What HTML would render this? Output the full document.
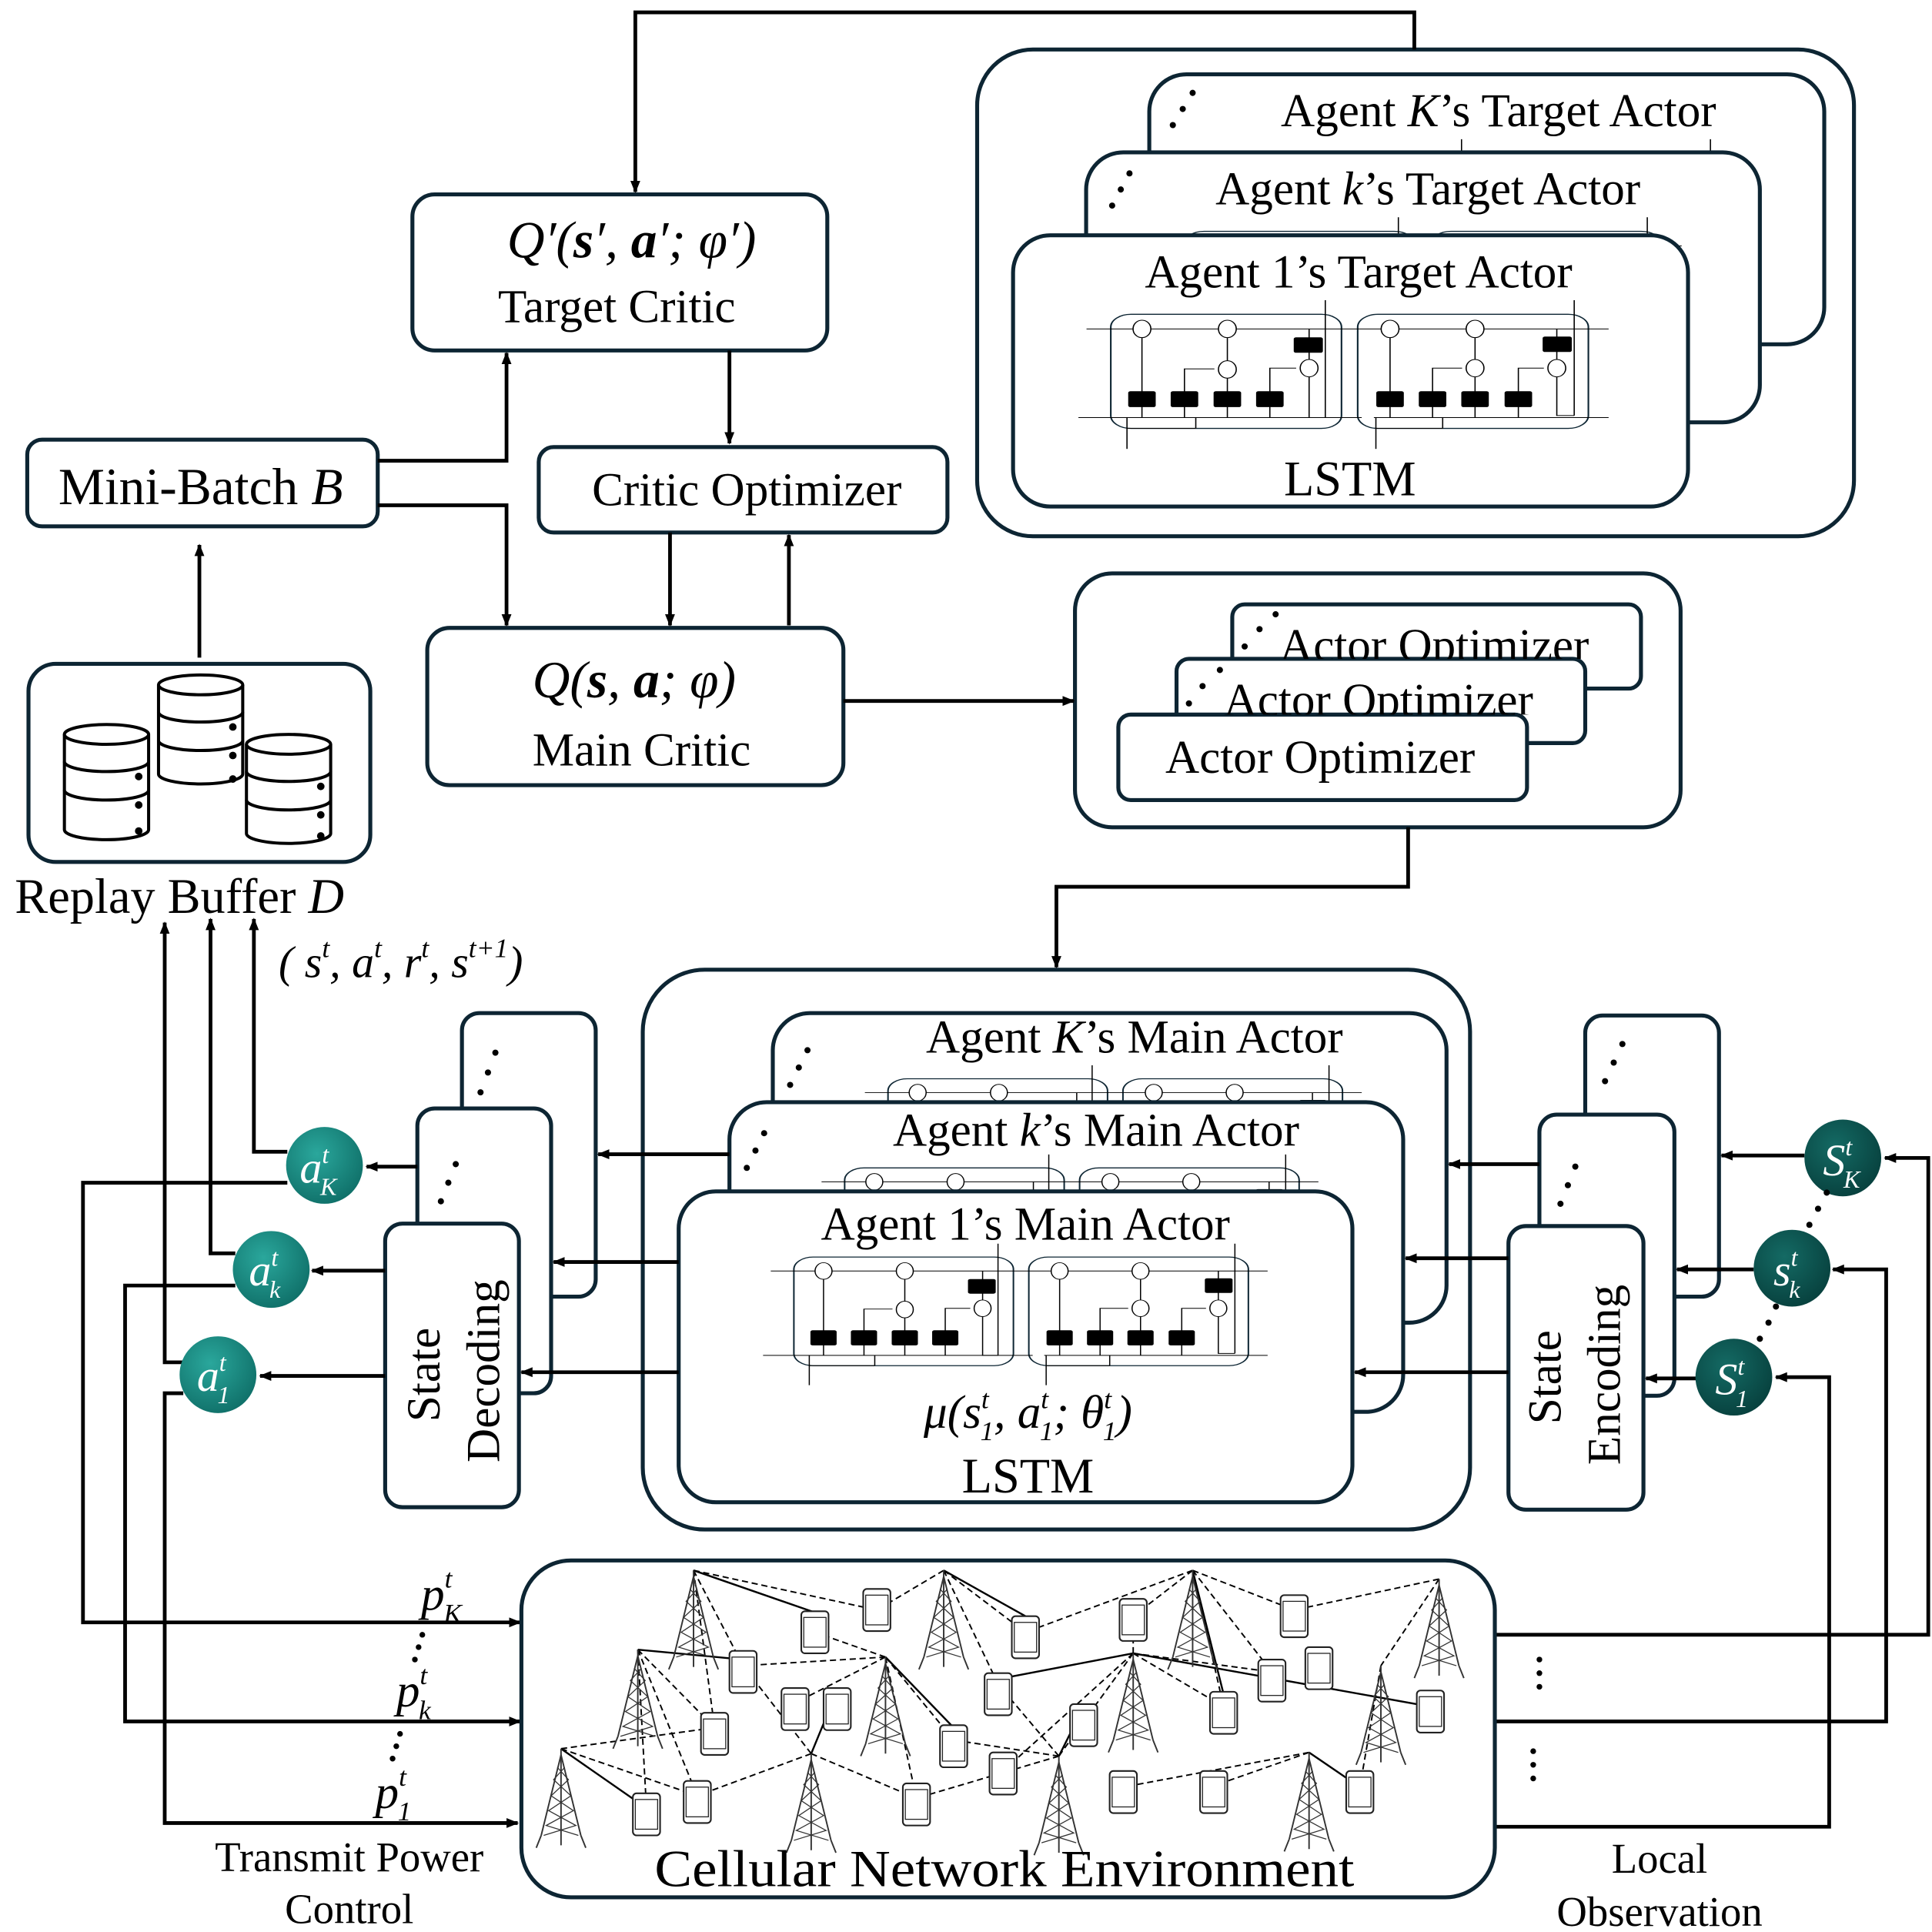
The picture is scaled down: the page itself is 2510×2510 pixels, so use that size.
<!DOCTYPE html>
<html><head><meta charset="utf-8"><style>
html,body{margin:0;padding:0;background:#fff}
svg{display:block}
text{font-family:"Liberation Serif",serif;fill:#000}
</style></head><body>
<svg width="2510" height="2510" viewBox="0 0 1560 1560" xmlns="http://www.w3.org/2000/svg">
<defs>
<marker id="ar" markerWidth="10" markerHeight="10" refX="9" refY="5" orient="auto" markerUnits="userSpaceOnUse"><path d="M0,1 L10,5 L0,9 Z" fill="#000"/></marker>
<g id="lstm" stroke="#000" fill="none" stroke-width="3">
 <rect x="120" y="55" width="570" height="445" rx="50" stroke="#0d2533" stroke-width="4"/>
 <rect x="730" y="55" width="570" height="445" rx="50" stroke="#0d2533" stroke-width="4"/>
 <line x1="60" y1="112" x2="1350" y2="112"/>
 <line x1="40" y1="458" x2="740" y2="458"/>
 <line x1="770" y1="458" x2="1350" y2="458"/>
 <line x1="160" y1="458" x2="160" y2="580"/><line x1="330" y1="458" x2="330" y2="500"/><line x1="160" y1="500" x2="330" y2="500"/>
 <line x1="775" y1="458" x2="775" y2="580"/><line x1="940" y1="458" x2="940" y2="500"/><line x1="775" y1="500" x2="940" y2="500"/>
 <line x1="197" y1="458" x2="197" y2="144"/><line x1="408" y1="458" x2="408" y2="302"/><line x1="408" y1="238" x2="408" y2="144"/>
 <polyline points="302,458 302,268 376,268"/><polyline points="513,458 513,265 578,265"/>
 <line x1="610" y1="112" x2="610" y2="233"/><polyline points="610,297 610,458 650,458"/><line x1="650" y1="458" x2="650" y2="0"/>
 <line x1="810" y1="458" x2="810" y2="144"/><line x1="1020" y1="458" x2="1020" y2="297"/><line x1="1020" y1="233" x2="1020" y2="144"/>
 <polyline points="915,458 915,265 988,265"/><polyline points="1127,458 1127,265 1190,265"/>
 <line x1="1222" y1="112" x2="1222" y2="233"/><polyline points="1222,297 1222,450 1265,450"/><line x1="1265" y1="450" x2="1265" y2="0"/>
 <g fill="#fff"><ellipse cx="197" cy="112" rx="22" ry="34"/><ellipse cx="408" cy="112" rx="22" ry="34"/><ellipse cx="408" cy="270" rx="22" ry="34"/><ellipse cx="610" cy="265" rx="22" ry="34"/>
 <ellipse cx="810" cy="112" rx="22" ry="34"/><ellipse cx="1020" cy="112" rx="22" ry="34"/><ellipse cx="1020" cy="265" rx="22" ry="34"/><ellipse cx="1222" cy="265" rx="22" ry="34"/></g>
 <g fill="#000" stroke="none"><rect x="163" y="355" width="68" height="62" rx="6"/><rect x="268" y="355" width="68" height="62" rx="6"/><rect x="374" y="355" width="68" height="62" rx="6"/><rect x="479" y="355" width="68" height="62" rx="6"/>
 <rect x="776" y="355" width="68" height="62" rx="6"/><rect x="881" y="355" width="68" height="62" rx="6"/><rect x="986" y="355" width="68" height="62" rx="6"/><rect x="1093" y="355" width="68" height="62" rx="6"/>
 <rect x="572" y="145" width="72" height="60" rx="6"/><rect x="1187" y="142" width="72" height="60" rx="6"/></g>
</g>
<g id="tower" stroke="#333" fill="none" stroke-width="1.2">
 <line x1="0" y1="0" x2="0" y2="78"/><line x1="0" y1="5" x2="-16" y2="70"/><line x1="0" y1="5" x2="16" y2="70"/>
 <line x1="-16" y1="70" x2="-20" y2="80"/><line x1="16" y1="70" x2="20" y2="80"/>
 <path d="M-3,15 L6,25 L-8,38 L10,50 L-12,62 L14,70 M3,15 L-6,25 L8,38 L-10,50 L12,62 L-14,70" stroke-width="0.8"/>
</g>
<g id="phone" stroke="#222" fill="#fff" stroke-width="1.3">
 <rect x="-11" y="-17" width="22" height="34" rx="3"/><rect x="-9" y="-12" width="18" height="24" fill="none" stroke-width="0.8"/>
</g>
</defs>

<g fill="none" stroke="#0d2533" stroke-width="3.2">
<rect x="789" y="40" width="708" height="393" rx="45" fill="#fff"/>
<rect x="928" y="60" width="545" height="218" rx="30" fill="#fff"/>
</g>
<use href="#lstm" transform="translate(967.7,112.4) scale(0.3268,0.207)"/>
<rect x="877" y="123" width="544" height="218" rx="30" fill="#fff" stroke="#0d2533" stroke-width="3.2"/>
<use href="#lstm" transform="translate(916.7,175.4) scale(0.3268,0.207)"/>
<rect x="818" y="190" width="545" height="219" rx="30" fill="#fff" stroke="#0d2533" stroke-width="3.2"/>
<use href="#lstm" transform="translate(857.7,242.4) scale(0.3268,0.207)"/>
<text x="1210" y="102" font-size="38" text-anchor="middle">Agent <tspan font-style="italic">K</tspan>’s Target Actor</text>
<text x="1153" y="165" font-size="38" text-anchor="middle">Agent <tspan font-style="italic">k</tspan>’s Target Actor</text>
<text x="1097" y="232" font-size="38" text-anchor="middle">Agent 1’s Target Actor</text>
<text x="1090" y="400" font-size="40" text-anchor="middle">LSTM</text>
<g fill="#000"><circle cx="963" cy="75" r="2.5"/><circle cx="955" cy="88" r="2.5"/><circle cx="947" cy="101" r="2.5"/>
<circle cx="912" cy="140" r="2.5"/><circle cx="905" cy="153" r="2.5"/><circle cx="898" cy="166" r="2.5"/></g>

<g fill="#fff" stroke="#0d2533" stroke-width="3.2">
<rect x="333" y="157" width="335" height="126" rx="18"/>
<rect x="22" y="355" width="283" height="70" rx="12"/>
<rect x="435" y="361" width="330" height="69" rx="12"/>
<rect x="345" y="507" width="336" height="127" rx="18"/>
<rect x="23" y="536" width="276" height="160" rx="22"/>
</g>
<text x="510" y="208" font-size="42" text-anchor="middle" font-style="italic">Q′(<tspan font-weight="bold">s</tspan>′, <tspan font-weight="bold">a</tspan>′; φ′)</text>
<text x="498" y="260" font-size="38" text-anchor="middle">Target Critic</text>
<text x="162" y="407" font-size="42" text-anchor="middle">Mini-Batch <tspan font-style="italic">B</tspan></text>
<text x="603" y="408" font-size="38" text-anchor="middle">Critic Optimizer</text>
<text x="512" y="563" font-size="42" text-anchor="middle" font-style="italic">Q(<tspan font-weight="bold">s</tspan>, <tspan font-weight="bold">a</tspan>; φ)</text>
<text x="518" y="618" font-size="38" text-anchor="middle">Main Critic</text>
<text x="12" y="737" font-size="40">Replay Buffer <tspan font-style="italic">D</tspan></text>
<text x="225" y="789" font-size="36" font-style="italic">( s<tspan font-size="22" dy="-16">t</tspan><tspan dy="16">, a</tspan><tspan font-size="22" dy="-16">t</tspan><tspan dy="16">,  r</tspan><tspan font-size="22" dy="-16">t</tspan><tspan dy="16">,  s</tspan><tspan font-size="22" dy="-16">t+1</tspan><tspan dy="16">)</tspan></text>

<g stroke="#000" stroke-width="2.5" fill="#fff">
<g transform="translate(52,585)"><path d="M0,8 V85 A34,8 0 0 0 68,85 V8"/><ellipse cx="34" cy="8" rx="34" ry="8"/><path d="M0,30 A34,8 0 0 0 68,30 M0,53 A34,8 0 0 0 68,53" fill="none"/><circle cx="60" cy="42" r="1.8" fill="#000"/><circle cx="60" cy="65" r="1.8" fill="#000"/><circle cx="60" cy="86" r="1.8" fill="#000"/></g>
<g transform="translate(128,545)"><path d="M0,8 V80 A34,8 0 0 0 68,80 V8"/><ellipse cx="34" cy="8" rx="34" ry="8"/><path d="M0,30 A34,8 0 0 0 68,30 M0,53 A34,8 0 0 0 68,53" fill="none"/><circle cx="60" cy="42" r="1.8" fill="#000"/><circle cx="60" cy="65" r="1.8" fill="#000"/><circle cx="60" cy="84" r="1.8" fill="#000"/></g>
<g transform="translate(199,593)"><path d="M0,8 V80 A34,8 0 0 0 68,80 V8"/><ellipse cx="34" cy="8" rx="34" ry="8"/><path d="M0,30 A34,8 0 0 0 68,30 M0,53 A34,8 0 0 0 68,53" fill="none"/><circle cx="60" cy="42" r="1.8" fill="#000"/><circle cx="60" cy="65" r="1.8" fill="#000"/><circle cx="60" cy="82" r="1.8" fill="#000"/></g>
</g>

<g fill="#fff" stroke="#0d2533" stroke-width="3.2">
<rect x="868" y="463" width="489" height="205" rx="30"/>
<rect x="995" y="488" width="330" height="68" rx="10"/>
<rect x="950" y="532" width="330" height="68" rx="10"/>
<rect x="903" y="577" width="330" height="69" rx="10"/>
</g>
<clipPath id="c1"><rect x="995" y="488" width="330" height="44"/></clipPath>
<clipPath id="c2"><rect x="950" y="532" width="330" height="45"/></clipPath>
<text x="1158" y="534" font-size="38" text-anchor="middle" clip-path="url(#c1)">Actor Optimizer</text>
<text x="1113" y="578" font-size="38" text-anchor="middle" clip-path="url(#c2)">Actor Optimizer</text>
<text x="1066" y="624" font-size="38" text-anchor="middle">Actor Optimizer</text>
<g fill="#000"><circle cx="1030" cy="496" r="2.5"/><circle cx="1017" cy="508" r="2.5"/><circle cx="1005" cy="522" r="2.5"/>
<circle cx="985" cy="541" r="2.5"/><circle cx="971" cy="554" r="2.5"/><circle cx="960" cy="568" r="2.5"/></g>

<rect x="519" y="783" width="668" height="452" rx="50" fill="#fff" stroke="#0d2533" stroke-width="3.2"/>
<rect x="624" y="818" width="544" height="250" rx="30" fill="#fff" stroke="#0d2533" stroke-width="3.2"/>
<use href="#lstm" transform="translate(679.7,860.2) scale(0.311,0.197)"/>
<rect x="589" y="890" width="544" height="250" rx="30" fill="#fff" stroke="#0d2533" stroke-width="3.2"/>
<use href="#lstm" transform="translate(644.7,932.2) scale(0.311,0.197)"/>
<rect x="548" y="962" width="544" height="251" rx="30" fill="#fff" stroke="#0d2533" stroke-width="3.2"/>
<use href="#lstm" transform="translate(603.7,1004.2) scale(0.311,0.197)"/>
<text x="916" y="850" font-size="38" text-anchor="middle">Agent <tspan font-style="italic">K</tspan>’s Main Actor</text>
<text x="885" y="925" font-size="38" text-anchor="middle">Agent <tspan font-style="italic">k</tspan>’s Main Actor</text>
<text x="828" y="1001" font-size="38" text-anchor="middle">Agent 1’s Main Actor</text>
<text x="830" y="1153" font-size="38" text-anchor="middle" font-style="italic">μ(s<tspan font-size="22" dy="-16">t</tspan><tspan font-size="22" dx="-7" dy="26">1</tspan><tspan dy="-10">, a</tspan><tspan font-size="22" dy="-16">t</tspan><tspan font-size="22" dx="-7" dy="26">1</tspan><tspan dy="-10">; θ</tspan><tspan font-size="22" dy="-16">t</tspan><tspan font-size="22" dx="-7" dy="26">1</tspan><tspan dy="-10">)</tspan></text>
<text x="830" y="1205" font-size="40" text-anchor="middle">LSTM</text>
<g fill="#000"><circle cx="652" cy="848" r="2.5"/><circle cx="645" cy="862" r="2.5"/><circle cx="638" cy="876" r="2.5"/>
<circle cx="617" cy="915" r="2.5"/><circle cx="610" cy="929" r="2.5"/><circle cx="603" cy="943" r="2.5"/></g>

<g fill="#fff" stroke="#0d2533" stroke-width="3.2">
<rect x="373" y="818" width="108" height="229" rx="14"/>
<rect x="337" y="895" width="108" height="230" rx="14"/>
<rect x="311" y="988" width="108" height="229" rx="14"/>
<rect x="1280" y="820" width="108" height="227" rx="14"/>
<rect x="1243" y="900" width="109" height="227" rx="14"/>
<rect x="1218" y="990" width="109" height="229" rx="14"/>
</g>
<g fill="#000"><circle cx="400" cy="850" r="2.5"/><circle cx="394" cy="866" r="2.5"/><circle cx="388" cy="882" r="2.5"/>
<circle cx="368" cy="940" r="2.5"/><circle cx="362" cy="955" r="2.5"/><circle cx="356" cy="970" r="2.5"/>
<circle cx="1310" cy="843" r="2.5"/><circle cx="1303" cy="858" r="2.5"/><circle cx="1296" cy="873" r="2.5"/>
<circle cx="1272" cy="942" r="2.5"/><circle cx="1266" cy="957" r="2.5"/><circle cx="1260" cy="972" r="2.5"/></g>
<text transform="translate(355,1110) rotate(-90)" font-size="38" text-anchor="middle">State</text>
<text transform="translate(403,1107) rotate(-90)" font-size="38" text-anchor="middle">Decoding</text>
<text transform="translate(1260,1112) rotate(-90)" font-size="38" text-anchor="middle">State</text>
<text transform="translate(1308,1110) rotate(-90)" font-size="38" text-anchor="middle">Encoding</text>

<g fill="none" stroke="#000" stroke-width="3">
<polyline points="1142,40 1142,10 513,10 513,155" marker-end="url(#ar)"/>
<polyline points="305,372 409,372 409,285" marker-end="url(#ar)"/>
<polyline points="305,408 409,408 409,505" marker-end="url(#ar)"/>
<line x1="589" y1="283" x2="589" y2="358" marker-end="url(#ar)"/>
<line x1="541" y1="430" x2="541" y2="505" marker-end="url(#ar)"/>
<line x1="637" y1="505" x2="637" y2="432" marker-end="url(#ar)"/>
<line x1="681" y1="566" x2="867" y2="566" marker-end="url(#ar)"/>
<polyline points="1137,668 1137,716 853,716 853,781" marker-end="url(#ar)"/>
<line x1="161" y1="531" x2="161" y2="440" marker-end="url(#ar)"/>
<line x1="589" y1="932" x2="483" y2="932" marker-end="url(#ar)"/>
<line x1="548" y1="1019" x2="447" y2="1019" marker-end="url(#ar)"/>
<line x1="548" y1="1108" x2="421" y2="1108" marker-end="url(#ar)"/>
<line x1="337" y1="942" x2="296" y2="942" marker-end="url(#ar)"/>
<line x1="311" y1="1026" x2="252" y2="1026" marker-end="url(#ar)"/>
<line x1="311" y1="1111" x2="210" y2="1111" marker-end="url(#ar)"/>
<polyline points="232,930 205,930 205,742" marker-end="url(#ar)"/>
<polyline points="190,1012 170,1012 170,742" marker-end="url(#ar)"/>
<polyline points="148,1100 133,1100 133,745" marker-end="url(#ar)"/>
<polyline points="232,955 67,955 67,1310 420,1310" marker-end="url(#ar)"/>
<polyline points="190,1038 101,1038 101,1390 420,1390" marker-end="url(#ar)"/>
<polyline points="148,1125 133,1125 133,1472 418,1472" marker-end="url(#ar)"/>
<polyline points="1207,1320 1557,1320 1557,935 1522,935" marker-end="url(#ar)"/>
<polyline points="1207,1390 1523,1390 1523,1025 1480,1025" marker-end="url(#ar)"/>
<polyline points="1207,1475 1477,1475 1477,1112 1434,1112" marker-end="url(#ar)"/>
<line x1="1457" y1="933" x2="1390" y2="933" marker-end="url(#ar)"/>
<line x1="1416" y1="1025" x2="1354" y2="1025" marker-end="url(#ar)"/>
<line x1="1370" y1="1113" x2="1329" y2="1113" marker-end="url(#ar)"/>
<line x1="1243" y1="940" x2="1170" y2="940" marker-end="url(#ar)"/>
<line x1="1218" y1="1016" x2="1135" y2="1016" marker-end="url(#ar)"/>
<line x1="1218" y1="1108" x2="1094" y2="1108" marker-end="url(#ar)"/>
</g>

<defs><radialGradient id="tg" cx="0.4" cy="0.35" r="0.7"><stop offset="0" stop-color="#2aa79c"/><stop offset="1" stop-color="#0f6f68"/></radialGradient>
<radialGradient id="dg" cx="0.4" cy="0.35" r="0.7"><stop offset="0" stop-color="#146a64"/><stop offset="1" stop-color="#07403d"/></radialGradient></defs>
<circle cx="262" cy="941" r="31" fill="url(#tg)"/><circle cx="219" cy="1025" r="31" fill="url(#tg)"/><circle cx="176" cy="1110" r="31" fill="url(#tg)"/>
<circle cx="1488" cy="935" r="31" fill="url(#dg)"/><circle cx="1447" cy="1024" r="31" fill="url(#dg)"/><circle cx="1400" cy="1112" r="31" fill="url(#dg)"/>
<g font-style="italic">
<text x="242" y="955" font-size="36" style="fill:#fff">a<tspan font-size="20" dy="-16">t</tspan><tspan font-size="20" dx="-7" dy="26">K</tspan></text>
<text x="201" y="1038" font-size="36" style="fill:#fff">a<tspan font-size="20" dy="-16">t</tspan><tspan font-size="20" dx="-7" dy="26">k</tspan></text>
<text x="159" y="1123" font-size="36" style="fill:#fff">a<tspan font-size="20" dy="-16">t</tspan><tspan font-size="20" dx="-7" dy="26">1</tspan></text>
<text x="1472" y="949" font-size="36" style="fill:#fff">S<tspan font-size="20" dy="-16">t</tspan><tspan font-size="20" dx="-7" dy="26">K</tspan></text>
<text x="1432" y="1038" font-size="36" style="fill:#fff">s<tspan font-size="20" dy="-16">t</tspan><tspan font-size="20" dx="-7" dy="26">k</tspan></text>
<text x="1385" y="1126" font-size="36" style="fill:#fff">S<tspan font-size="20" dy="-16">t</tspan><tspan font-size="20" dx="-7" dy="26">1</tspan></text>
</g>
<g fill="#000"><circle cx="1475" cy="963" r="2.5"/><circle cx="1468" cy="976" r="2.5"/><circle cx="1461" cy="989" r="2.5"/>
<circle cx="1434" cy="1055" r="2.5"/><circle cx="1428" cy="1068" r="2.5"/><circle cx="1421" cy="1081" r="2.5"/></g>

<g font-style="italic">
<text x="340" y="1300" font-size="38">p<tspan font-size="22" dy="-18">t</tspan><tspan font-size="22" dx="-7" dy="28">K</tspan></text>
<text x="320" y="1378" font-size="38">p<tspan font-size="22" dy="-18">t</tspan><tspan font-size="22" dx="-7" dy="28">k</tspan></text>
<text x="303" y="1460" font-size="38">p<tspan font-size="22" dy="-18">t</tspan><tspan font-size="22" dx="-7" dy="28">1</tspan></text>
</g>
<g fill="#000"><circle cx="341" cy="1320" r="2.3"/><circle cx="338" cy="1330" r="2.3"/><circle cx="335" cy="1340" r="2.3"/>
<circle cx="323" cy="1400" r="2.3"/><circle cx="320" cy="1410" r="2.3"/><circle cx="317" cy="1420" r="2.3"/>
<circle cx="1243" cy="1340" r="2.3"/><circle cx="1243" cy="1351" r="2.3"/><circle cx="1243" cy="1362" r="2.3"/>
<circle cx="1238" cy="1414" r="2.3"/><circle cx="1238" cy="1425" r="2.3"/><circle cx="1238" cy="1436" r="2.3"/></g>
<text x="282" y="1511" font-size="34" text-anchor="middle">Transmit Power</text>
<text x="282" y="1553" font-size="34" text-anchor="middle">Control</text>
<text x="1340" y="1512" font-size="34" text-anchor="middle">Local</text>
<text x="1340" y="1555" font-size="34" text-anchor="middle">Observation</text>

<rect x="421" y="1260" width="786" height="272" rx="40" fill="#fff" stroke="#0d2533" stroke-width="3.2"/>
<g stroke="#000" stroke-width="1.2" fill="none" stroke-dasharray="5,3">
<path d="M560,1268 L708,1300 M560,1268 L600,1345 M560,1268 L577,1395 M762,1268 L708,1300 M762,1268 L806,1360 M762,1268 L828,1318 M963,1268 L1045,1300 M963,1268 L988,1378 M963,1268 L1027,1350 M963,1268 L828,1318 M963,1268 L915,1305
M515,1332 L577,1395 M515,1332 L522,1460 M515,1332 L563,1450 M715,1338 L642,1375 M715,1338 L770,1405 M715,1338 L658,1318 M715,1338 L600,1345 M715,1338 L740,1452 M915,1335 L988,1378 M915,1335 L875,1390 M915,1335 L1027,1350 M915,1335 L1155,1378 M915,1335 L810,1430 M915,1335 L915,1300
M453,1412 L563,1450 M453,1412 L577,1395 M655,1416 L563,1450 M655,1416 L740,1452 M655,1416 L600,1345 M855,1418 L875,1390 M855,1418 L770,1405 M855,1418 L740,1452 M855,1418 L806,1360 M1057,1415 L907,1443 M1057,1415 L980,1442 M1057,1415 L1098,1443 M1115,1345 L1098,1443 M1162,1275 L1115,1345 M1162,1275 L1045,1300"/>
</g>
<g stroke="#000" stroke-width="1.5" fill="none">
<path d="M560,1268 L658,1302 M762,1268 L828,1305 M515,1332 L600,1340 M453,1412 L522,1460 M715,1338 L770,1395 M655,1416 L676,1365 M915,1335 L810,1355 M855,1418 L875,1378 M1057,1415 L1098,1443 M963,1268 L988,1368 M915,1335 L1155,1378"/>
</g>
<g>
<use href="#tower" x="560" y="1268"/><use href="#tower" x="762" y="1268"/><use href="#tower" x="963" y="1268"/><use href="#tower" x="1162" y="1275"/>
<use href="#tower" x="515" y="1332"/><use href="#tower" x="715" y="1338"/><use href="#tower" x="915" y="1335"/><use href="#tower" x="1115" y="1345"/>
<use href="#tower" x="453" y="1412"/><use href="#tower" x="655" y="1416"/><use href="#tower" x="855" y="1418"/><use href="#tower" x="1057" y="1415"/>
</g>
<g>
<use href="#phone" x="658" y="1318"/><use href="#phone" x="708" y="1300"/><use href="#phone" x="828" y="1322"/><use href="#phone" x="915" y="1308"/><use href="#phone" x="1045" y="1305"/>
<use href="#phone" x="600" y="1350"/><use href="#phone" x="642" y="1380"/><use href="#phone" x="676" y="1380"/><use href="#phone" x="806" y="1368"/><use href="#phone" x="875" y="1393"/>
<use href="#phone" x="988" y="1383"/><use href="#phone" x="1027" y="1357"/><use href="#phone" x="1065" y="1347"/><use href="#phone" x="1155" y="1382"/>
<use href="#phone" x="577" y="1400"/><use href="#phone" x="770" y="1410"/><use href="#phone" x="810" y="1432"/><use href="#phone" x="522" y="1465"/>
<use href="#phone" x="563" y="1455"/><use href="#phone" x="740" y="1457"/><use href="#phone" x="907" y="1447"/><use href="#phone" x="980" y="1447"/><use href="#phone" x="1098" y="1447"/>
</g>
<text x="811" y="1523" font-size="42" text-anchor="middle" textLength="565" lengthAdjust="spacingAndGlyphs">Cellular Network Environment</text>
</svg>
</body></html>
